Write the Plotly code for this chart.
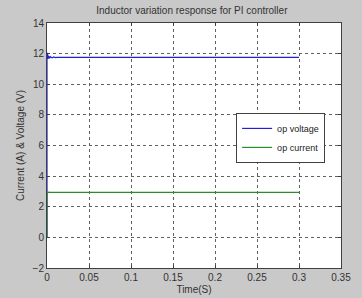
import plotly.graph_objects as go

time_v = [0, 0.0, 0.0004, 0.0008, 0.0012, 0.002, 0.003, 0.004, 0.006, 0.008, 0.010, 0.012, 0.3]
voltage = [0, 12.05, 11.55, 11.95, 11.65, 11.85, 11.7, 11.8, 11.72, 11.78, 11.74, 11.76, 11.75]
time_i = [0, 0.0, 0.0005, 0.001, 0.002, 0.004, 0.3]
current = [0, 2.95, 2.92, 2.95, 2.93, 2.94, 2.94]

x_ticks = [0, 0.05, 0.1, 0.15, 0.2, 0.25, 0.3, 0.35]
x_tick_labels = ["0", "0.05", "0.1", "0.15", "0.2", "0.25", "0.3", "0.35"]
y_ticks = [-2, 0, 2, 4, 6, 8, 10, 12, 14]

font = dict(family="Liberation Sans, Arial", size=10, color="#333333")

fig = go.Figure()
fig.add_trace(go.Scatter(x=time_v, y=voltage, mode="lines", name="op voltage",
                         line=dict(color="#2020d8", width=1.2)))
fig.add_trace(go.Scatter(x=time_i, y=current, mode="lines", name="op current",
                         line=dict(color="#2a8c2a", width=1.2)))

axis_common = dict(showgrid=True, gridcolor="#606060", griddash="dot", gridwidth=1,
                   showline=True, linecolor="#404040", linewidth=1, mirror="ticks",
                   zeroline=False, ticks="inside", ticklen=3, tickcolor="#404040",
                   tickfont=font, layer="below traces", automargin=False)

fig.update_layout(
    width=362, height=298,
    margin=dict(l=47, r=21, t=23, b=30),
    paper_bgcolor="#c9c9c9", plot_bgcolor="#ffffff",
    title=dict(text="Inductor variation response for PI controller", x=0.53, xanchor="center",
               y=0.965, yanchor="middle", font=dict(family="Liberation Sans, Arial", size=10, color="#333333")),
    xaxis=dict(range=[0, 0.35], tickvals=x_ticks, ticktext=x_tick_labels, ticklabelstandoff=0,
               title=dict(text="Time(S)", font=font, standoff=3), **axis_common),
    yaxis=dict(range=[-2, 14], tickvals=y_ticks,
               title=dict(text="Current (A) & Voltage (V)", font=font, standoff=6), **axis_common),
    legend=dict(x=0.946, y=0.633, xanchor="right", yanchor="top", bgcolor="#ffffff",
                bordercolor="#404040", borderwidth=1,
                font=dict(family="Liberation Sans, Arial", size=9, color="#222222"),
                tracegroupgap=0, itemwidth=30),
    showlegend=True,
)

fig.write_html("out.html")
